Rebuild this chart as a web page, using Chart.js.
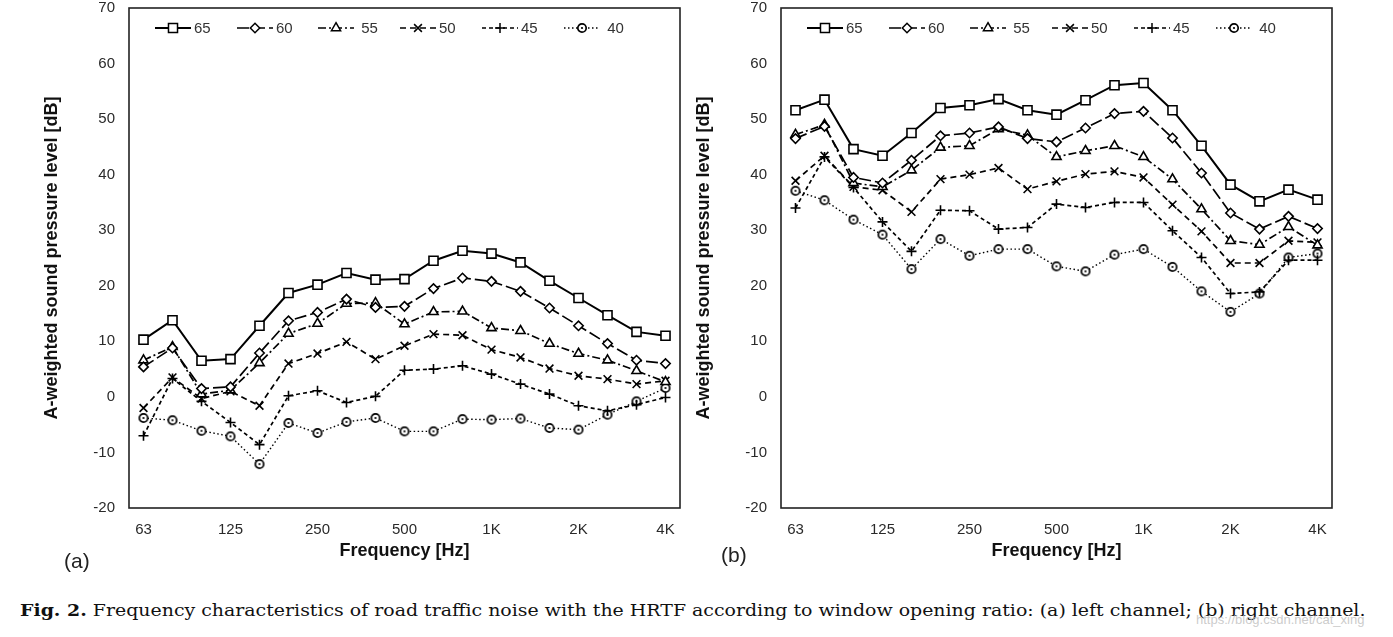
<!DOCTYPE html>
<html lang="en">
<head>
<meta charset="UTF-8">
<title>Fig. 2</title>
<style>
  body { margin: 0; width: 1393px; height: 637px; background: #fff; position: relative; overflow: hidden;
         font-family: "Liberation Sans", Arial, sans-serif; }
  canvas { position: absolute; top: -15px; }
  #chartA { left: 0; }
  #chartB { left: 652px; }
  .tag { position: absolute; font-size: 21px; color: #222; }
  #caption { position: absolute; left: 20px; top: 600px; white-space: nowrap; font-family: "DejaVu Serif", serif;
             font-size: 17px; color: #111; transform-origin: 0 0; }
  #mark { position: absolute; left: 1196px; top: 612px; font-size: 13px; color: rgba(190,190,190,0.8); }
</style>
</head>
<body>
<canvas id="chartA" width="690" height="583"></canvas>
<canvas id="chartB" width="690" height="583"></canvas>
<div class="tag" style="left:64px;top:549px">(a)</div>
<div class="tag" style="left:721px;top:543px">(b)</div>
<div id="caption"><b>Fig. 2.</b> Frequency characteristics of road traffic noise with the HRTF according to window opening ratio: (a) left channel; (b) right channel.</div>
<div id="mark">https://blog.csdn.net/cat_xing</div>

<script src="https://cdn.jsdelivr.net/npm/chart.js"></script>
<script>
// 1/3 octave bands
const bands = ['63', '80', '100', '125', '160', '200', '250', '315', '400', '500', '630', '800', '1K', '1.25K', '1.6K', '2K', '2.5K', '3.15K', '4K'];
const shownTicks = ['63', '125', '250', '500', '1K', '2K', '4K'];
const yTicks = [-20, -10, 0, 10, 20, 30, 40, 50, 60, 70];
const seriesNames = ['65', '60', '55', '50', '45', '40'];

// (a) left channel
const left65 = [10.3, 13.8, 6.5, 6.8, 12.8, 18.7, 20.2, 22.3, 21.1, 21.2, 24.5, 26.3, 25.8, 24.2, 20.9, 17.8, 14.7, 11.7, 11.0];
const left60 = [5.4, 8.8, 1.5, 1.8, 7.9, 13.7, 15.2, 17.6, 16.1, 16.3, 19.5, 21.4, 20.8, 19.0, 16.0, 12.8, 9.6, 6.6, 6.0];
const left55 = [6.6, 9.0, 0.5, 1.2, 6.1, 11.4, 13.2, 16.8, 16.9, 13.1, 15.3, 15.4, 12.4, 11.9, 9.6, 7.8, 6.6, 4.7, 2.7];
const left50 = [-2.0, 3.5, -0.3, 1.0, -1.6, 6.0, 7.8, 9.9, 6.8, 9.2, 11.3, 11.1, 8.5, 7.1, 5.1, 3.8, 3.2, 2.3, 2.9];
const left45 = [-7.0, 3.3, -0.8, -4.6, -8.6, 0.2, 1.1, -1.0, 0.1, 4.8, 5.0, 5.6, 4.1, 2.3, 0.5, -1.6, -2.5, -1.4, -0.1];
const left40 = [-3.8, -4.2, -6.1, -7.1, -12.1, -4.7, -6.5, -4.5, -3.8, -6.2, -6.2, -4.0, -4.1, -3.9, -5.6, -5.9, -3.2, -0.8, 1.6];

// (b) right channel
const right65 = [51.6, 53.5, 44.6, 43.4, 47.5, 52.0, 52.5, 53.6, 51.6, 50.8, 53.4, 56.1, 56.5, 51.6, 45.2, 38.2, 35.2, 37.3, 35.5];
const right60 = [46.5, 48.7, 39.5, 38.5, 42.6, 47.0, 47.5, 48.6, 46.5, 45.9, 48.4, 51.0, 51.4, 46.6, 40.3, 33.1, 30.2, 32.5, 30.3];
const right55 = [47.2, 49.0, 38.5, 37.8, 40.8, 44.9, 45.2, 48.2, 47.1, 43.2, 44.3, 45.2, 43.2, 39.2, 33.8, 28.1, 27.4, 30.6, 27.3];
const right50 = [38.9, 43.4, 37.8, 37.2, 33.3, 39.2, 40.0, 41.2, 37.4, 38.8, 40.1, 40.6, 39.5, 34.6, 29.8, 24.1, 24.1, 28.1, 27.8];
const right45 = [34.0, 43.2, 37.7, 31.5, 26.2, 33.6, 33.5, 30.2, 30.5, 34.7, 34.1, 35.0, 35.0, 29.9, 25.1, 18.6, 18.9, 24.6, 24.6];
const right40 = [37.1, 35.4, 31.9, 29.2, 23.0, 28.4, 25.4, 26.6, 26.6, 23.5, 22.6, 25.6, 26.6, 23.4, 19.0, 15.3, 18.6, 25.1, 25.8];

// circle with a dot in the middle for the 40 series
const dotCircle = document.createElement('canvas');
dotCircle.width = 12; dotCircle.height = 12;
(function () {
    const c = dotCircle.getContext('2d');
    c.strokeStyle = '#000'; c.fillStyle = '#fff'; c.lineWidth = 1.7;
    c.beginPath(); c.arc(6, 6, 4.2, 0, Math.PI * 2); c.fill(); c.stroke();
    c.fillStyle = '#000';
    c.beginPath(); c.arc(6, 6, 1.1, 0, Math.PI * 2); c.fill();
})();

const styles = [
    { dash: [], point: 'rect', radius: 6.4, width: 2 },
    { dash: [12, 4], point: 'rectRot', radius: 4.7, width: 1.7 },
    { dash: [8, 3, 2, 3], point: 'triangle', radius: 5.3, width: 1.7 },
    { dash: [6, 4], point: 'crossRot', radius: 5.5, width: 1.7 },
    { dash: [4, 3], point: 'cross', radius: 5, width: 1.7 },
    { dash: [1.5, 2.5], point: dotCircle, radius: 4, width: 1.4 }
];

const boxAndLegend = {
    id: 'boxAndLegend',
    afterDraw(chart) {
        const ctx = chart.ctx;
        const a = chart.chartArea;
        ctx.save();
        ctx.strokeStyle = '#222';
        ctx.lineWidth = 1.6;
        ctx.strokeRect(a.left, a.top, a.right - a.left, a.bottom - a.top);

        const y = a.top + 20;
        ctx.font = '15px "Liberation Sans", Arial, sans-serif';
        ctx.textBaseline = 'middle';
        chart.data.datasets.forEach((ds, i) => {
            const st = styles[i];
            const x0 = Math.round(a.left + 26 + i * 81.7);
            ctx.strokeStyle = '#000';
            ctx.lineWidth = st.width;
            ctx.setLineDash(st.dash);
            ctx.beginPath(); ctx.moveTo(x0, y); ctx.lineTo(x0 + 36, y); ctx.stroke();
            ctx.setLineDash([]);
            ctx.fillStyle = '#fff';
            ctx.lineWidth = 1.5;
            Chart.helpers.drawPoint(ctx, { pointStyle: st.point, radius: st.radius, rotation: 0, borderWidth: 1.5 }, x0 + 18, y);
            ctx.fillStyle = '#333';
            ctx.fillText((i === 2 || i === 5 ? ' ' : '') + ds.label, x0 + 39, y + 1);
        });
        ctx.restore();
    }
};

function makeChart(id, series) {
    new Chart(document.getElementById(id), {
        type: 'line',
        data: {
            labels: bands,
            datasets: series.map((vals, i) => ({
                label: seriesNames[i],
                data: vals,
                borderColor: '#000',
                borderWidth: styles[i].width,
                borderDash: styles[i].dash,
                pointStyle: styles[i].point,
                pointRadius: styles[i].radius,
                pointBorderColor: '#000',
                pointBackgroundColor: '#fff',
                pointBorderWidth: 1.6,
                tension: 0,
                fill: false
            }))
        },
        options: {
            responsive: false,
            animation: false,
            events: [],
            layout: { padding: { top: 7, right: 10, left: 0, bottom: 0 } },
            plugins: { legend: { display: false }, tooltip: { enabled: false } },
            scales: {
                x: {
                    offset: true,
                    grid: { display: false, drawTicks: false },
                    border: { display: false },
                    afterFit: s => { s.height = 60; },
                    ticks: {
                        autoSkip: false, maxRotation: 0, padding: 13, color: '#2a2a2a',
                        font: { family: '"Liberation Sans", Arial, sans-serif', size: 15 },
                        callback: (v, idx) => shownTicks.includes(bands[idx]) ? bands[idx] : ''
                    },
                    title: {
                        display: true, text: 'Frequency [Hz]', color: '#111',
                        padding: { top: 0, bottom: 6 },
                        font: { family: '"Liberation Sans", Arial, sans-serif', size: 18, weight: 'bold' }
                    }
                },
                y: {
                    min: yTicks[0], max: yTicks[yTicks.length - 1],
                    grid: { display: false, drawTicks: false },
                    border: { display: false },
                    afterFit: s => { s.width = 129; },
                    afterBuildTicks: s => { s.ticks = yTicks.map(v => ({ value: v })); },
                    ticks: {
                        padding: 14, color: '#2a2a2a',
                        font: { family: '"Liberation Sans", Arial, sans-serif', size: 15 }
                    },
                    title: {
                        display: true, text: 'A-weighted sound pressure level [dB]', color: '#111',
                        padding: { top: 41, bottom: 0 },
                        font: { family: '"Liberation Sans", Arial, sans-serif', size: 18, weight: 'bold' }
                    }
                }
            }
        },
        plugins: [boxAndLegend]
    });
}

makeChart('chartA', [left65, left60, left55, left50, left45, left40]);
makeChart('chartB', [right65, right60, right55, right50, right45, right40]);

// stretch caption to the width used in the figure
const cap = document.getElementById('caption');
cap.style.transform = 'scaleX(' + (1345 / cap.scrollWidth) + ')';
</script>
</body>
</html>
